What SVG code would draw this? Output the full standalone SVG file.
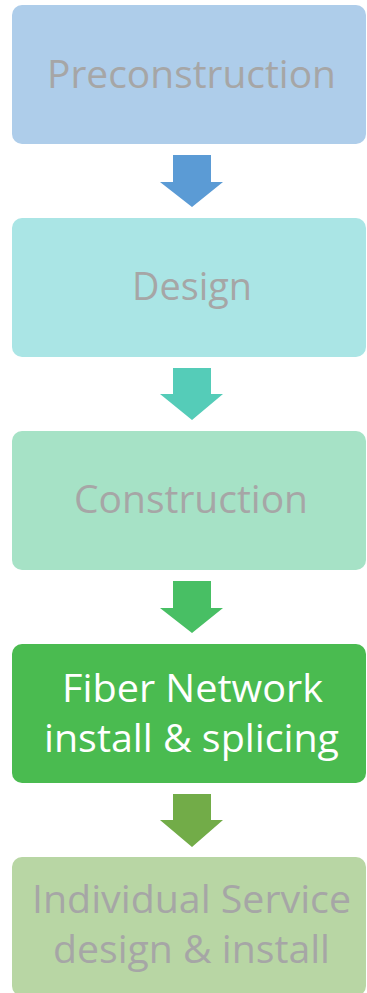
<svg xmlns="http://www.w3.org/2000/svg" width="367" height="993" viewBox="0 0 367 993">
<style>
.box{stroke:none}
.t{font-family:"Open Sans","Noto Sans","Liberation Sans",sans-serif;font-size:38px;fill:#A6A6A6;text-anchor:start}
.w{fill:#FFFFFF}
</style>
<rect width="367" height="993" fill="#FFFFFF"/>
<g id="connectors">
<polygon points="173,155 211,155 211,182 223,182 192,207 160,182 173,182" fill="#5B9BD5"/>
<polygon points="173,368 211,368 211,394 223,394 192,420 160,394 173,394" fill="#55CCB8"/>
<polygon points="173,581 211,581 211,608 223,608 192,633 160,608 173,608" fill="#48BF64"/>
<polygon points="173,794 211,794 211,820 223,820 192,847 160,820 173,820" fill="#72AC48"/>
</g>
<g id="preconstruction">
<rect class="box" x="12" y="5" width="354" height="139" rx="10" fill="#AECDEA"/>
<text class="t" x="47" y="88" textLength="289" lengthAdjust="spacingAndGlyphs">Preconstruction</text>
</g>
<g id="design">
<rect class="box" x="12" y="218" width="354" height="139" rx="10" fill="#AAE5E5"/>
<text class="t" x="132" y="300" textLength="120" lengthAdjust="spacingAndGlyphs">Design</text>
</g>
<g id="construction">
<rect class="box" x="12" y="431" width="354" height="139" rx="10" fill="#A6E2C6"/>
<text class="t" x="74" y="513" textLength="234" lengthAdjust="spacingAndGlyphs">Construction</text>
</g>
<g id="fiber-network">
<rect class="box" x="12" y="644" width="354" height="139" rx="10" fill="#4ABB50"/>
<text class="t w" x="62" y="702" textLength="261" lengthAdjust="spacingAndGlyphs">Fiber Network</text>
<text class="t w" x="44" y="752" textLength="295" lengthAdjust="spacingAndGlyphs">install &amp; splicing</text>
</g>
<g id="individual-service">
<rect class="box" x="12" y="857" width="354" height="139" rx="10" fill="#B8D6A4"/>
<text class="t" x="32" y="913" textLength="319" lengthAdjust="spacingAndGlyphs">Individual Service</text>
<text class="t" x="53" y="963" textLength="277" lengthAdjust="spacingAndGlyphs">design &amp; install</text>
</g>
</svg>
